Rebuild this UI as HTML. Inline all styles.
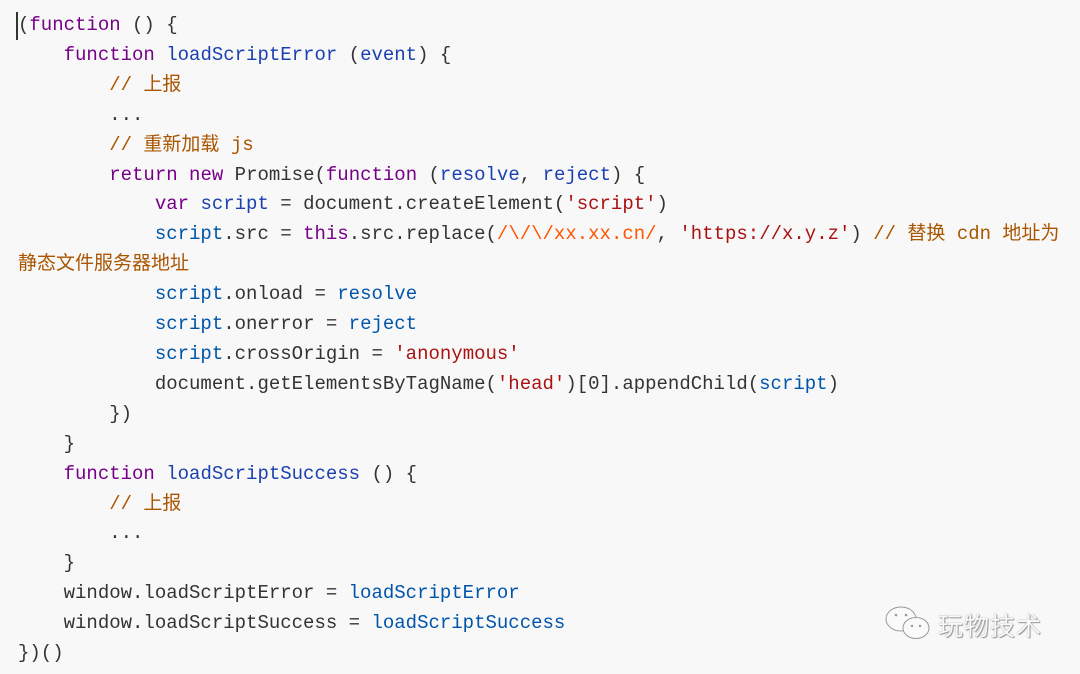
<!DOCTYPE html>
<html><head><meta charset="utf-8"><style>
html,body{margin:0;padding:0;}
body{width:1080px;height:674px;background:#f8f8f8;position:relative;overflow:hidden;}
pre{margin:0;position:absolute;left:18px;top:11px;font-family:"Liberation Mono","Noto Sans CJK SC",monospace;font-size:19px;line-height:29.9px;color:#333;}
.k{color:#770088}.d{color:#1a3fb0}.v{color:#0055aa}.c{color:#aa5500}.s{color:#aa1111}.r{color:#ff5500}
.cur{position:absolute;left:16px;top:12px;width:1.5px;height:28px;background:#333;}
.wm{position:absolute;left:938px;top:607px;font-family:"Noto Sans CJK SC",sans-serif;font-size:25px;color:#fafafa;text-shadow:0 0 1px #777,1px 1px 1px #999;letter-spacing:1px;}
</style></head><body>
<div class="cur"></div>
<pre>(<span class="k">function</span> () {
    <span class="k">function</span> <span class="d">loadScriptError</span> (<span class="d">event</span>) {
        <span class="c">// 上报</span>
        ...
        <span class="c">// 重新加载 js</span>
        <span class="k">return</span> <span class="k">new</span> Promise(<span class="k">function</span> (<span class="d">resolve</span>, <span class="d">reject</span>) {
            <span class="k">var</span> <span class="d">script</span> = document.createElement(<span class="s">'script'</span>)
            <span class="v">script</span>.src = <span class="k">this</span>.src.replace(<span class="r">/\/\/xx.xx.cn/</span>, <span class="s">'https://x.y.z'</span>) <span class="c">// 替换 cdn 地址为</span>
<span class="c">静态文件服务器地址</span>
            <span class="v">script</span>.onload = <span class="v">resolve</span>
            <span class="v">script</span>.onerror = <span class="v">reject</span>
            <span class="v">script</span>.crossOrigin = <span class="s">'anonymous'</span>
            document.getElementsByTagName(<span class="s">'head'</span>)[0].appendChild(<span class="v">script</span>)
        })
    }
    <span class="k">function</span> <span class="d">loadScriptSuccess</span> () {
        <span class="c">// 上报</span>
        ...
    }
    window.loadScriptError = <span class="v">loadScriptError</span>
    window.loadScriptSuccess = <span class="v">loadScriptSuccess</span>
})()</pre>
<svg style="position:absolute;left:884px;top:604px" width="52" height="40" viewBox="0 0 52 40">
<ellipse cx="17" cy="15" rx="15" ry="12" fill="#fafafa" stroke="#999" stroke-width="1"/>
<ellipse cx="32" cy="24" rx="13" ry="10.5" fill="#fafafa" stroke="#999" stroke-width="1"/>
<circle cx="12" cy="11" r="1.3" fill="#999"/><circle cx="22" cy="11" r="1.3" fill="#999"/>
<circle cx="28" cy="22" r="1.2" fill="#999"/><circle cx="36" cy="22" r="1.2" fill="#999"/>
</svg>
<div class="wm">玩物技术</div>
</body></html>
